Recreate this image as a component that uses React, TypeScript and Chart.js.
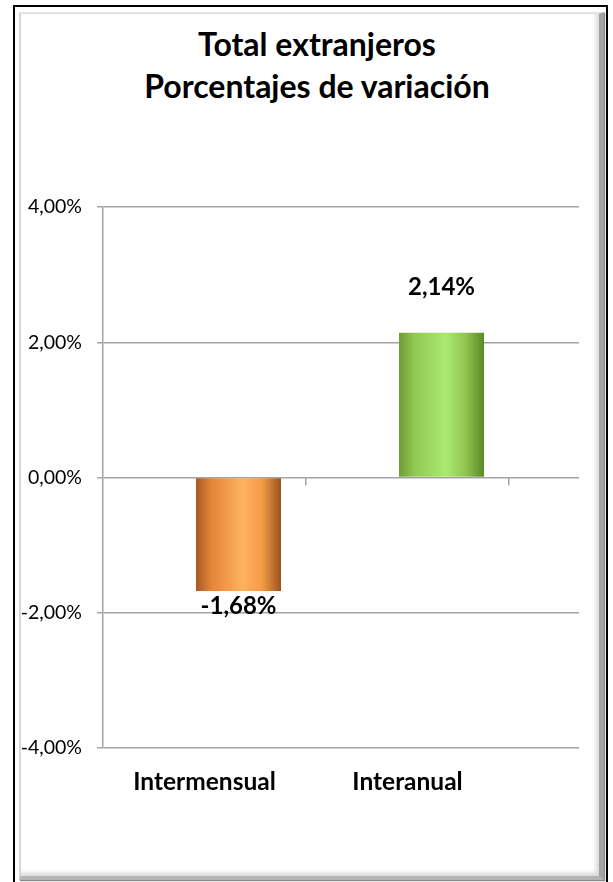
import React, { useEffect, useRef } from 'react';
import { Chart, registerables } from 'chart.js';

Chart.register(...registerables);

// ---- data ----
const titleLines = ['Total extranjeros', 'Porcentajes de variación'];
const categories = ['Intermensual', 'Interanual'];
const variation = [-1.68, 2.14];
const emptySeries: (number | null)[] = [null, null];
const yTickValues = [-4, -2, 0, 2, 4];
const barBaseColors = ['#f39a4a', '#8fcc4e'];
const barGradientStops: [number, string][][] = [
  [
    [0, '#a85a24'],
    [0.18, '#e2853a'],
    [0.55, '#ffb262'],
    [0.78, '#f29a47'],
    [1, '#9c5220'],
  ],
  [
    [0, '#6f9c34'],
    [0.18, '#92c853'],
    [0.55, '#aaea6e'],
    [0.78, '#8fc650'],
    [1, '#5b8a26'],
  ],
];

const FONT = 'Lato, "Open Sans", sans-serif';
const GRID = '#a3a3a3';
const GRID_W = 1.5;
const GRID_EXTEND = 70;

const fmt = (v: number) => v.toFixed(2).replace('.', ',') + '%';

const align = (chart: any, p: number, w: number) => {
  const dpr = chart.currentDevicePixelRatio || 1;
  const h = w / 2;
  return Math.round((p - h) * dpr) / dpr + h;
};

const framePlugin = {
  id: 'excelFrame',
  beforeDatasetsDraw(chart: any) {
    const { ctx, chartArea, scales } = chart;
    const y = scales.y;
    const x = scales.x;
    ctx.save();
    ctx.strokeStyle = GRID;
    ctx.lineWidth = GRID_W;
    // extend horizontal gridlines past the last category
    yTickValues.forEach((v) => {
      const py = align(chart, y.getPixelForValue(v), GRID_W);
      ctx.beginPath();
      ctx.moveTo(chartArea.right, py);
      ctx.lineTo(chartArea.right + GRID_EXTEND, py);
      ctx.stroke();
    });
    // category tick marks on the zero line
    const zero = y.getPixelForValue(0);
    const catW = x.width / categories.length;
    for (let i = 1; i <= categories.length; i++) {
      const px = align(chart, x.left + i * catW, GRID_W);
      ctx.beginPath();
      ctx.moveTo(px, zero);
      ctx.lineTo(px, zero + 8);
      ctx.stroke();
    }
    ctx.restore();

    // cylinder-like horizontal gradient on each bar
    const meta = chart.getDatasetMeta(1);
    meta.data.forEach((bar: any, i: number) => {
      const { x: bx, width } = bar.getProps(['x', 'width'], true);
      const g = ctx.createLinearGradient(bx - width / 2, 0, bx + width / 2, 0);
      barGradientStops[i].forEach(([o, c]) => g.addColorStop(o, c));
      bar.options.backgroundColor = g;
    });
  },
  afterDatasetsDraw(chart: any) {
    const { ctx } = chart;
    const meta = chart.getDatasetMeta(1);
    ctx.save();
    ctx.fillStyle = '#000';
    ctx.font = `bold 24px ${FONT}`;
    ctx.textAlign = 'center';
    ctx.textBaseline = 'middle';
    meta.data.forEach((bar: any, i: number) => {
      const v = variation[i];
      const { x: bx, y: by } = bar.getProps(['x', 'y'], true);
      const ty = v >= 0 ? by - 46 : by + 15;
      ctx.fillText(fmt(v), bx, ty);
    });
    ctx.restore();
  },
};

export default function App() {
  const ref = useRef<HTMLCanvasElement | null>(null);

  useEffect(() => {
    document.body.style.overflow = 'hidden';
    const canvas = ref.current;
    if (!canvas) return;
    const chart = new Chart(canvas, {
      type: 'bar',
      data: {
        labels: categories,
        datasets: [
          {
            label: '',
            data: emptySeries,
            backgroundColor: 'rgba(0,0,0,0)',
          },
          {
            label: 'Variación',
            data: variation,
            backgroundColor: (c: any) => barBaseColors[c.dataIndex % barBaseColors.length],
            borderWidth: 0,
          },
        ],
      },
      options: {
        animation: false,
        responsive: false,
        maintainAspectRatio: false,
        devicePixelRatio: 1,
        categoryPercentage: 0.67,
        barPercentage: 1.25,
        layout: { padding: { top: 207, left: 0, right: 104, bottom: 74 } },
        plugins: {
          legend: { display: false },
          title: { display: false },
          tooltip: { enabled: false },
        },
        scales: {
          x: {
            type: 'category',
            offset: true,
            grid: { display: false, drawTicks: false },
            border: { display: false },
            ticks: {
              color: '#000',
              font: { family: FONT, size: 24.5, weight: 'bold' },
              padding: 19,
              maxRotation: 0,
              autoSkip: false,
            },
            afterFit: (s: any) => {
              s.height = 60;
            },
          },
          y: {
            type: 'linear',
            min: -4,
            max: 4,
            afterBuildTicks: (s: any) => {
              s.ticks = yTickValues.map((v) => ({ value: v }));
            },
            grid: {
              color: GRID,
              lineWidth: GRID_W,
              drawTicks: true,
              tickLength: 6,
            },
            border: { display: true, color: GRID, width: GRID_W },
            ticks: {
              color: '#000',
              font: { family: FONT, size: 19.5 },
              padding: 15,
              callback: (v: any) => fmt(Number(v)),
            },
            afterFit: (s: any) => {
              s.width = 103;
            },
          },
        },
      },
      plugins: [framePlugin],
    });
    return () => chart.destroy();
  }, []);

  return (
    <div
      style={{
        position: 'absolute',
        left: 0,
        top: 0,
        width: 613,
        height: 882,
        overflow: 'hidden',
        background: '#fff',
      }}
    >
      <div
        style={{
          position: 'absolute',
          left: 13,
          top: 5,
          width: 595,
          height: 900,
          border: '2px solid #000',
          boxSizing: 'border-box',
        }}
      />
      <div
        style={{
          position: 'absolute',
          left: 19,
          top: 12,
          width: 585,
          height: 868,
          boxSizing: 'border-box',
          borderLeft: '2px solid #d6d6d6',
          borderTop: '2px solid #e2e2e2',
          borderRight: '5px solid #a2a2a2',
          borderBottom: '4px solid #b4b4b4',
          boxShadow: 'inset -3px -3px 4px #d8d8d8, 1px 1px 1px #888',
        }}
      />
      <div
        style={{
          position: 'absolute',
          left: 30,
          top: 23,
          width: 574,
          textAlign: 'center',
          fontFamily: FONT,
          fontWeight: 'bold',
          fontSize: 32,
          lineHeight: '42px',
          color: '#000',
        }}
      >
        {titleLines.map((t) => (
          <div key={t}>{t}</div>
        ))}
      </div>
      <canvas
        ref={ref}
        width={613}
        height={882}
        style={{ position: 'absolute', left: 0, top: 0, width: 613, height: 882 }}
      />
    </div>
  );
}
